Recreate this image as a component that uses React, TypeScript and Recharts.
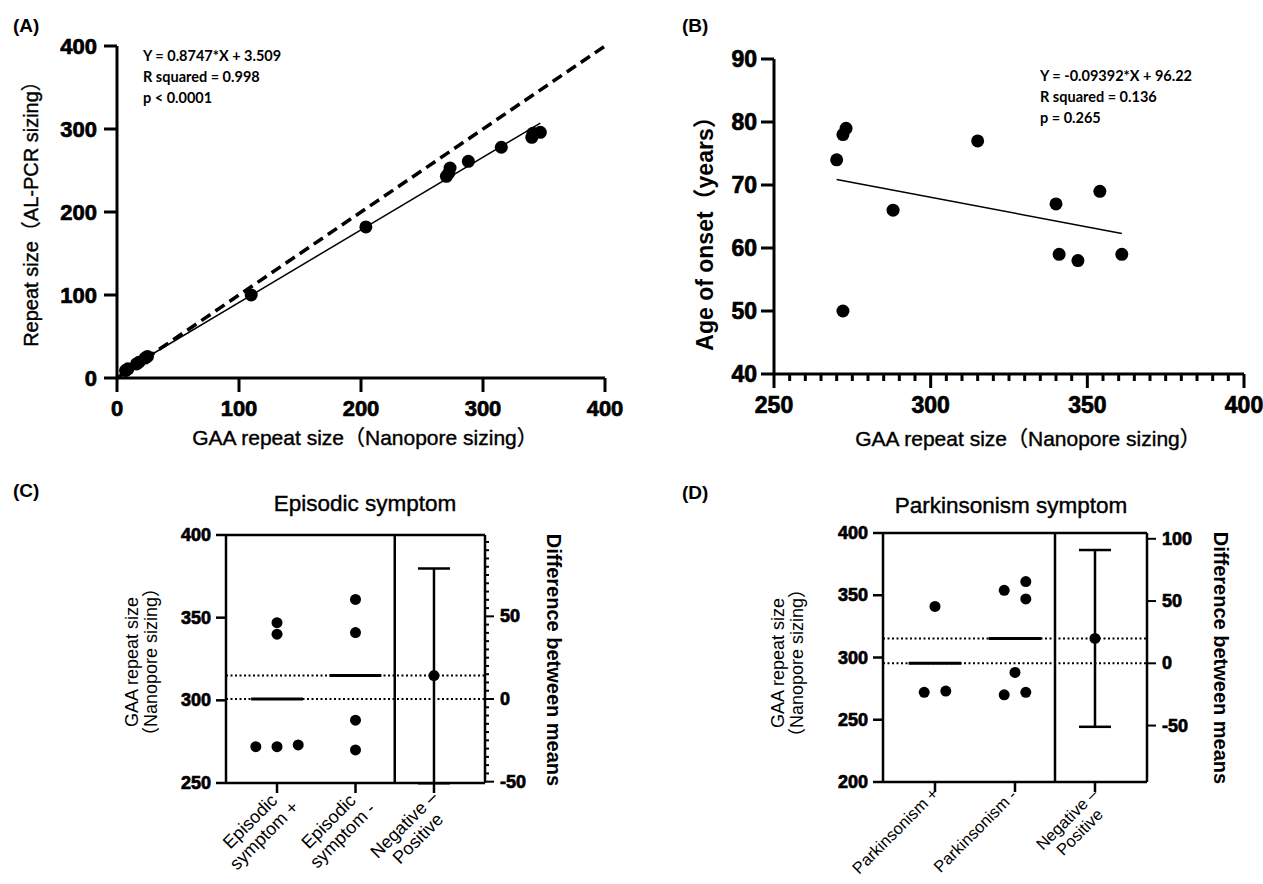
import React from "react"
import { ComposedChart, Scatter, XAxis, YAxis, ReferenceLine, ErrorBar } from "recharts"

const FONT = "'Liberation Sans', Arial, 'Noto Sans CJK JP', sans-serif"
const NOTE_FONT = "Lato, 'Liberation Sans', sans-serif"

// (A) nanopore sizing vs AL-PCR sizing
const nanoporeSize = [7, 9, 16, 18, 23, 25, 110, 204, 270, 272, 273, 288, 315, 340, 341, 347]
const alpcrSize = [9, 11, 17, 19, 24, 26, 100, 182, 243, 247, 253, 261, 278, 290, 295, 296]
const fitA = { slope: 0.8747, intercept: 3.509 }
const identityRange = [0, 400]
const ticksA = [0, 100, 200, 300, 400]
const notesA = ["Y = 0.8747*X + 3.509", "R squared = 0.998", "p < 0.0001"]

// (B) repeat size vs age of onset
const onsetRepeat = [270, 272, 273, 272, 288, 315, 340, 341, 347, 354, 361]
const onsetAge = [74, 78, 79, 50, 66, 77, 67, 59, 58, 69, 59]
const fitB = { slope: -0.09392, intercept: 96.22 }
const ticksBx = [
  250, 255, 260, 265, 270, 275, 280, 285, 290, 295, 300, 305, 310, 315, 320, 325,
  330, 335, 340, 345, 350, 355, 360, 365, 370, 375, 380, 385, 390, 395, 400,
]
const majorBx = [250, 300, 350, 400]
const ticksBy = [40, 50, 60, 70, 80, 90]
const notesB = ["Y = -0.09392*X + 96.22", "R squared = 0.136", "p = 0.265"]

// (C) episodic symptom
const episodicPos = [272, 273, 272, 340, 347]
const episodicNeg = [361, 341, 288, 270]
const episodicCI = [-51, 79]
const episodicLabels = [["Episodic", "symptom +"], ["Episodic", "symptom -"], ["Negative –", "Positive"]]
const ticksCy = [250, 300, 350, 400]
const ticksCdiff = [
  -50, -45, -40, -35, -30, -25, -20, -15, -10, -5, 0, 5, 10, 15, 20, 25, 30, 35, 40,
  45, 50, 55, 60, 65, 70, 75, 80, 85, 90, 95,
]
const majorCdiff = [-50, 0, 50]

// (D) parkinsonism symptom
const parkPos = [341, 272, 273]
const parkNeg = [354, 361, 347, 288, 270, 272]
const parkCI = [-51, 91]
const parkLabels = [["Parkinsonism +"], ["Parkinsonism -"], ["Negative –", "Positive"]]
const ticksDy = [200, 250, 300, 350, 400]
const ticksDdiff = [-50, 0, 50, 100]

const mean = (a: number[]) => a.reduce((s, v) => s + v, 0) / a.length

// spread overlapping points sideways, like a column scatter
function swarm(vals: number[], cat: number, near: number, step: number) {
  const idx = vals.map((_, i) => i).sort((a, b) => vals[a] - vals[b])
  const out = vals.map((v) => ({ x: cat, y: v }))
  let i = 0
  while (i < idx.length) {
    let j = i
    while (j + 1 < idx.length && vals[idx[j + 1]] - vals[idx[j]] < near) j++
    const run = idx.slice(i, j + 1)
    const span = vals[run[run.length - 1]] - vals[run[0]]
    run.forEach((k, n) => {
      const off = span < near / 2 ? (n - (run.length - 1) / 2) * step : ((n % 2 === 0 ? 1 : -1) * step) / 2
      out[k].x = cat + off
    })
    i = j + 1
  }
  return out
}

const dot = (r: number) => (p: any) => <circle cx={p.cx} cy={p.cy} r={r} fill="#000" />

type TickOpts = {
  side: "left" | "right" | "bottom"
  major: number[]
  long: number
  short: number
  gap: number
  size: number
  sw: number
}

function makeTick(o: TickOpts) {
  return (p: any) => {
    const v = p.payload.value
    const big = o.major.includes(v)
    const len = big ? o.long : o.short
    const { x, y } = p
    const txt = {
      fontFamily: FONT,
      fontSize: o.size,
      fontWeight: "bold",
      fill: "#000",
      stroke: "#000",
      strokeWidth: 0.7,
    }
    if (o.side === "bottom") {
      return (
        <g>
          <line x1={x} y1={y} x2={x} y2={y + len} stroke="#000" strokeWidth={o.sw} />
          {big && (
            <text x={x} y={y + o.long + o.gap} textAnchor="middle" dominantBaseline="hanging" {...txt}>
              {v}
            </text>
          )}
        </g>
      )
    }
    const s = o.side === "right" ? 1 : -1
    return (
      <g>
        <line x1={x} y1={y} x2={x + s * len} y2={y} stroke="#000" strokeWidth={o.sw} />
        {big && (
          <text
            x={x + s * (o.long + o.gap)}
            y={y}
            textAnchor={s > 0 ? "start" : "end"}
            dominantBaseline="central"
            {...txt}
          >
            {v}
          </text>
        )}
      </g>
    )
  }
}

function makeCatTick(labels: string[][], size: number, dx: number, dy: number) {
  return (p: any) => {
    const { x, y } = p
    const lines = labels[p.payload.value - 1] || []
    const w = Math.max(...lines.map((l) => l.length)) * size * 0.5
    return (
      <g>
        <line x1={x} y1={y} x2={x} y2={y + 10} stroke="#000" strokeWidth={2.5} />
        <g transform={`translate(${x + dx},${y + dy}) rotate(-45)`}>
          <text fontFamily={FONT} fontSize={size} fill="#000" textAnchor="middle">
            {lines.map((l, i) => (
              <tspan key={i} x={-w / 2} dy={i === 0 ? 0 : size * 1.1}>
                {l}
              </tspan>
            ))}
          </text>
        </g>
      </g>
    )
  }
}

const axisLine = (w: number) => ({ stroke: "#000", strokeWidth: w })

function PanelA() {
  const pts = nanoporeSize.map((x, i) => ({ x, y: alpcrSize[i] }))
  const x0 = Math.min(...nanoporeSize)
  const x1 = Math.max(...nanoporeSize)
  const fit = (x: number) => fitA.slope * x + fitA.intercept
  return (
    <ComposedChart width={640} height={440} margin={{ top: 46, right: 35, bottom: 22, left: 0 }}>
      <XAxis
        type="number"
        dataKey="x"
        domain={[0, 400]}
        ticks={ticksA}
        interval={0}
        height={40}
        allowDataOverflow
        axisLine={axisLine(3)}
        tickLine={false}
        tickSize={0}
        tickMargin={0}
        tick={makeTick({ side: "bottom", major: ticksA, long: 14, short: 14, gap: 8, size: 22, sw: 3 })}
      />
      <YAxis
        type="number"
        dataKey="y"
        domain={[0, 400]}
        ticks={ticksA}
        interval={0}
        width={117}
        allowDataOverflow
        axisLine={axisLine(3)}
        tickLine={false}
        tickSize={0}
        tickMargin={0}
        tick={makeTick({ side: "left", major: ticksA, long: 13, short: 13, gap: 7, size: 22, sw: 3 })}
      />
      <ReferenceLine
        segment={[
          { x: identityRange[0], y: identityRange[0] },
          { x: identityRange[1], y: identityRange[1] },
        ]}
        stroke="#000"
        strokeWidth={3.5}
        strokeDasharray="11 6"
      />
      <ReferenceLine
        segment={[
          { x: x0, y: fit(x0) },
          { x: x1, y: fit(x1) },
        ]}
        stroke="#000"
        strokeWidth={1.5}
      />
      <Scatter data={pts} shape={dot(6.5)} isAnimationActive={false} />
    </ComposedChart>
  )
}

function PanelB() {
  const pts = onsetRepeat.map((x, i) => ({ x, y: onsetAge[i] }))
  const x0 = Math.min(...onsetRepeat)
  const x1 = Math.max(...onsetRepeat)
  const fit = (x: number) => fitB.slope * x + fitB.intercept
  return (
    <ComposedChart width={633} height={440} margin={{ top: 59, right: 19, bottom: 26, left: 0 }}>
      <XAxis
        type="number"
        dataKey="x"
        domain={[250, 400]}
        ticks={ticksBx}
        interval={0}
        height={40}
        allowDataOverflow
        axisLine={axisLine(3)}
        tickLine={false}
        tickSize={0}
        tickMargin={0}
        tick={makeTick({ side: "bottom", major: majorBx, long: 14, short: 7, gap: 8, size: 23, sw: 3 })}
      />
      <YAxis
        type="number"
        dataKey="y"
        domain={[40, 90]}
        ticks={ticksBy}
        interval={0}
        width={144}
        allowDataOverflow
        axisLine={axisLine(3)}
        tickLine={false}
        tickSize={0}
        tickMargin={0}
        tick={makeTick({ side: "left", major: ticksBy, long: 13, short: 13, gap: 4, size: 23, sw: 3 })}
      />
      <ReferenceLine
        segment={[
          { x: x0, y: fit(x0) },
          { x: x1, y: fit(x1) },
        ]}
        stroke="#000"
        strokeWidth={1.5}
      />
      <Scatter data={pts} shape={dot(6.5)} isAnimationActive={false} />
    </ComposedChart>
  )
}

function EstimationPanel(props: {
  pos: number[]
  neg: number[]
  ci: number[]
  labels: string[][]
  yTicks: number[]
  diffTicks: number[]
  diffMajor: number[]
  diffMinor: number
  width: number
  top: number
  leftW: number
  rightW: number
  xH: number
  near: number
  labelSize: number
  labelDx: number
  labelDy: number
}) {
  const { pos, neg, ci, yTicks } = props
  const mPos = mean(pos)
  const mNeg = mean(neg)
  const diff = mNeg - mPos
  const lo = yTicks[0]
  const hi = yTicks[yTicks.length - 1]
  const pts = [...swarm(pos, 1, props.near, 0.27), ...swarm(neg, 2, props.near, 0.27)]
  const diffPt = [{ x: 3, y: diff, err: [diff - ci[0], ci[1] - diff] }]
  const half = 0.33
  return (
    <ComposedChart width={props.width} height={444} margin={{ top: props.top, right: 0, bottom: 0, left: 0 }}>
      <XAxis
        type="number"
        dataKey="x"
        domain={[0.35, 3.65]}
        ticks={[1, 2, 3]}
        interval={0}
        height={props.xH}
        allowDataOverflow
        axisLine={axisLine(2.5)}
        tickLine={false}
        tickSize={0}
        tickMargin={0}
        tick={makeCatTick(props.labels, props.labelSize, props.labelDx, props.labelDy)}
      />
      <YAxis
        yAxisId="l"
        type="number"
        dataKey="y"
        domain={[lo, hi]}
        ticks={yTicks}
        interval={0}
        width={props.leftW}
        allowDataOverflow
        axisLine={axisLine(2.5)}
        tickLine={false}
        tickSize={0}
        tickMargin={0}
        tick={makeTick({ side: "left", major: yTicks, long: 10, short: 10, gap: 5, size: 18, sw: 2.5 })}
      />
      <YAxis
        yAxisId="r"
        orientation="right"
        type="number"
        dataKey="y"
        domain={[lo - mPos, hi - mPos]}
        ticks={props.diffTicks}
        interval={0}
        width={props.rightW}
        allowDataOverflow
        axisLine={axisLine(2.5)}
        tickLine={false}
        tickSize={0}
        tickMargin={0}
        tick={makeTick({
          side: "right",
          major: props.diffMajor,
          long: 9,
          short: props.diffMinor,
          gap: 6,
          size: 18,
          sw: 2,
        })}
      />
      <ReferenceLine yAxisId="l" y={hi} stroke="#000" strokeWidth={2.5} />
      <ReferenceLine yAxisId="l" x={2.5} stroke="#000" strokeWidth={2.5} />
      <ReferenceLine yAxisId="l" y={mPos} stroke="#000" strokeWidth={2} strokeDasharray="2 2.5" />
      <ReferenceLine yAxisId="l" y={mNeg} stroke="#000" strokeWidth={2} strokeDasharray="2 2.5" />
      <ReferenceLine
        yAxisId="l"
        segment={[
          { x: 1 - half, y: mPos },
          { x: 1 + half, y: mPos },
        ]}
        stroke="#000"
        strokeWidth={3}
      />
      <ReferenceLine
        yAxisId="l"
        segment={[
          { x: 2 - half, y: mNeg },
          { x: 2 + half, y: mNeg },
        ]}
        stroke="#000"
        strokeWidth={3}
      />
      <Scatter yAxisId="l" data={pts} shape={dot(5.5)} isAnimationActive={false} />
      <Scatter yAxisId="r" data={diffPt} shape={dot(5.5)} isAnimationActive={false}>
        <ErrorBar dataKey="err" direction="y" width={16} stroke="#000" strokeWidth={2.5} isAnimationActive={false} />
      </Scatter>
    </ComposedChart>
  )
}

const T = (p: any) => (
  <text fontFamily={FONT} fill="#000" dominantBaseline="central" {...p} />
)

// slightly heavier than regular, like the figure's medium weight text
const MED = { stroke: "#000", strokeWidth: 0.4 }

export default function App() {
  return (
    <div
      style={{
        position: "absolute",
        left: 0,
        top: 0,
        width: 1263,
        height: 884,
        background: "#fff",
        overflow: "hidden",
      }}
    >
      <div style={{ position: "absolute", left: 0, top: 0 }}>
        <PanelA />
      </div>
      <div style={{ position: "absolute", left: 630, top: 0 }}>
        <PanelB />
      </div>
      <div style={{ position: "absolute", left: 0, top: 440 }}>
        <EstimationPanel
          pos={episodicPos}
          neg={episodicNeg}
          ci={episodicCI}
          labels={episodicLabels}
          yTicks={ticksCy}
          diffTicks={ticksCdiff}
          diffMajor={majorCdiff}
          diffMinor={4}
          width={630}
          top={95}
          leftW={226}
          rightW={145}
          xH={101}
          near={6.5}
          labelSize={18}
          labelDx={6}
          labelDy={14}
        />
      </div>
      <div style={{ position: "absolute", left: 630, top: 440 }}>
        <EstimationPanel
          pos={parkPos}
          neg={parkNeg}
          ci={parkCI}
          labels={parkLabels}
          yTicks={ticksDy}
          diffTicks={ticksDdiff}
          diffMajor={ticksDdiff}
          diffMinor={9}
          width={633}
          top={93}
          leftW={253}
          rightW={116}
          xH={102}
          near={9}
          labelSize={16.5}
          labelDx={5}
          labelDy={12}
        />
      </div>
      <svg
        width={1263}
        height={884}
        style={{ position: "absolute", left: 0, top: 0, pointerEvents: "none" }}
      >
        <T x={13} y={25} fontSize={19} fontWeight={700}>(A)</T>
        <T x={682} y={25} fontSize={19} fontWeight={700}>(B)</T>
        <T x={13} y={490} fontSize={19} fontWeight={700}>(C)</T>
        <T x={682} y={492} fontSize={19} fontWeight={700}>(D)</T>

        {notesA.map((s, i) => (
          <T key={s} x={143} y={55 + i * 21} fontSize={14.5} fontWeight={700} fontFamily={NOTE_FONT}>
            {s}
          </T>
        ))}
        {notesB.map((s, i) => (
          <T key={s} x={1040} y={75 + i * 21} fontSize={14.5} fontWeight={700} fontFamily={NOTE_FONT}>
            {s}
          </T>
        ))}

        <T x={365} y={437} fontSize={21} textAnchor="middle" {...MED}>
          GAA repeat size（Nanopore sizing）
        </T>
        <T transform="translate(31,209) rotate(-90)" fontSize={20} textAnchor="middle" {...MED}>
          Repeat size（AL-PCR sizing）
        </T>
        <T x={1028} y={438} fontSize={21} textAnchor="middle" {...MED}>
          GAA repeat size（Nanopore sizing）
        </T>
        <T transform="translate(705,228) rotate(-90)" fontSize={23} fontWeight={700} textAnchor="middle">
          Age of onset（years）
        </T>

        <T x={365} y={503} fontSize={22.5} textAnchor="middle" {...MED}>Episodic symptom</T>
        <T transform="translate(132,662) rotate(-90)" fontSize={18} textAnchor="middle">GAA repeat size</T>
        <T transform="translate(151,662) rotate(-90)" fontSize={18} textAnchor="middle">（Nanopore sizing）</T>
        <T transform="translate(554,660) rotate(90)" fontSize={20} fontWeight={700} textAnchor="middle">
          Difference between means
        </T>

        <T x={1011} y={505} fontSize={22.5} textAnchor="middle" {...MED}>Parkinsonism symptom</T>
        <T transform="translate(778,663) rotate(-90)" fontSize={18} textAnchor="middle">GAA repeat size</T>
        <T transform="translate(797,663) rotate(-90)" fontSize={18} textAnchor="middle">（Nanopore sizing）</T>
        <T transform="translate(1221,658) rotate(90)" fontSize={20} fontWeight={700} textAnchor="middle">
          Difference between means
        </T>
      </svg>
    </div>
  )
}
